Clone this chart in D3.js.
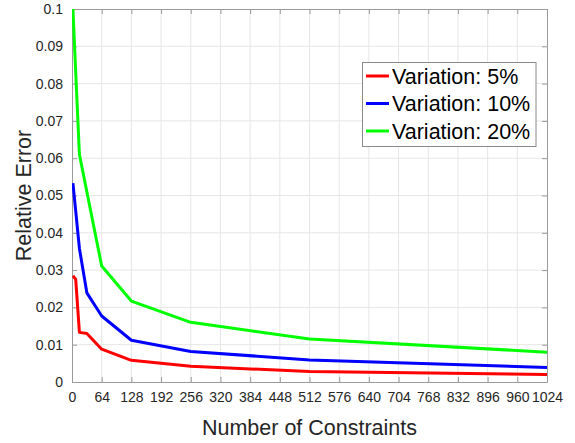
<!DOCTYPE html>
<html>
<head>
<meta charset="utf-8">
<script src="https://cdn.jsdelivr.net/npm/d3@7"></script>
<style>
  html, body { margin: 0; padding: 0; background: #fff; }
  svg { display: block; font-family: "Liberation Sans", Arial, Helvetica, sans-serif; }
</style>
</head>
<body>
<svg id="chart" width="575" height="443"></svg>
<script>
// Number of constraints at which each error was measured
const constraints = [2, 8, 16, 32, 64, 128, 256, 512, 1024];

// Relative error for each variation level
const err5  = [0.0285, 0.0275, 0.0133, 0.0130, 0.0088, 0.0058, 0.0042, 0.0028, 0.0020];
const err10 = [0.0533, 0.0458, 0.0358, 0.0239, 0.0177, 0.0112, 0.0082, 0.0059, 0.0039];
const err20 = [0.1000, 0.0830, 0.0610, 0.0510, 0.0311, 0.0217, 0.0160, 0.0115, 0.0080];

const seriesNames = ["Variation: 5%", "Variation: 10%", "Variation: 20%"];
const seriesColors = ["#ff0000", "#0000ff", "#00ff00"];

const xTicks = d3.range(0, 1025, 64);
const yTicks = [0, 0.01, 0.02, 0.03, 0.04, 0.05, 0.06, 0.07, 0.08, 0.09, 0.1];
const yTickLabels = ["0", "0.01", "0.02", "0.03", "0.04", "0.05", "0.06", "0.07", "0.08", "0.09", "0.1"];

const series = [err5, err10, err20].map((vals, i) => ({
  name: seriesNames[i],
  color: seriesColors[i],
  points: constraints.map((c, j) => [c, vals[j]])
}));

const svg = d3.select("#chart");
const plotLeft = 72, plotRight = 547, plotTop = 9, plotBottom = 382;

const x = d3.scaleLinear().domain([0, 1024]).range([plotLeft, plotRight]);
const y = d3.scaleLinear().domain([0, 0.1]).range([plotBottom, plotTop]);

const axisColor = "#9a9a9a";
const textColor = "#262626";
const tickLen = 5;

// grid
const grid = svg.append("g");
grid.selectAll("line.gx").data(xTicks.slice(1, -1)).join("line")
  .attr("x1", d => x(d)).attr("x2", d => x(d))
  .attr("y1", plotTop).attr("y2", plotBottom)
  .attr("stroke", "#e6e6e6").attr("stroke-width", 1);
grid.selectAll("line.gy").data(yTicks.slice(1, -1)).join("line")
  .attr("y1", d => y(d)).attr("y2", d => y(d))
  .attr("x1", plotLeft).attr("x2", plotRight)
  .attr("stroke", "#e6e6e6").attr("stroke-width", 1);

// axes: bottom and left with labels, top and right as box with inward ticks
const xAxis = svg.append("g").attr("transform", `translate(0,${plotBottom})`)
  .call(d3.axisBottom(x).tickValues(xTicks).tickFormat(d3.format("d"))
    .tickSizeInner(-tickLen).tickSizeOuter(0).tickPadding(10));
const yAxis = svg.append("g").attr("transform", `translate(${plotLeft},0)`)
  .call(d3.axisLeft(y).tickValues(yTicks).tickFormat((d, i) => yTickLabels[i])
    .tickSizeInner(-tickLen).tickSizeOuter(0).tickPadding(9));
const xTop = svg.append("g").attr("transform", `translate(0,${plotTop})`)
  .call(d3.axisTop(x).tickValues(xTicks).tickSizeInner(-tickLen).tickSizeOuter(0).tickFormat(""));
const yRight = svg.append("g").attr("transform", `translate(${plotRight},0)`)
  .call(d3.axisRight(y).tickValues(yTicks).tickSizeInner(-tickLen).tickSizeOuter(0).tickFormat(""));

[xAxis, yAxis, xTop, yRight].forEach(g => {
  g.select(".domain").attr("stroke", axisColor).attr("stroke-width", 1);
  g.selectAll(".tick line").attr("stroke", axisColor);
  g.selectAll(".tick text").attr("fill", textColor).style("font-size", "14px")
    .style("font-family", '"Liberation Sans", Arial, sans-serif');
});

// clip region for the curves
svg.append("clipPath").attr("id", "plotClip").append("rect")
  .attr("x", plotLeft).attr("y", plotTop - 2)
  .attr("width", plotRight - plotLeft).attr("height", plotBottom - plotTop + 2);

const line = d3.line().x(d => x(d[0])).y(d => y(d[1]));
svg.append("g").attr("clip-path", "url(#plotClip)")
  .selectAll("path").data(series).join("path")
  .attr("d", d => line(d.points))
  .attr("fill", "none")
  .attr("stroke", d => d.color)
  .attr("stroke-width", 3)
  .attr("stroke-linejoin", "round");

// axis titles
svg.append("text")
  .attr("x", (plotLeft + plotRight) / 2).attr("y", 435)
  .attr("text-anchor", "middle")
  .attr("fill", textColor)
  .style("font-size", "21.5px")
  .text("Number of Constraints");

svg.append("text")
  .attr("transform", `translate(31,${(plotTop + plotBottom) / 2}) rotate(-90)`)
  .attr("text-anchor", "middle")
  .attr("fill", textColor)
  .style("font-size", "21.5px")
  .text("Relative Error");

// legend
const lg = svg.append("g");
lg.append("rect")
  .attr("x", 362.5).attr("y", 62.5).attr("width", 173.5).attr("height", 84)
  .attr("fill", "#fff").attr("stroke", "#8a8a8a").attr("stroke-width", 1);
const rows = lg.selectAll("g.row").data(series).join("g")
  .attr("transform", (d, i) => `translate(0,${76 + i * 27.5})`);
rows.append("line")
  .attr("x1", 366).attr("x2", 389).attr("y1", 0).attr("y2", 0)
  .attr("stroke", d => d.color).attr("stroke-width", 3);
rows.append("text")
  .attr("x", 392).attr("y", 7.5)
  .attr("fill", "#000")
  .style("font-size", "21.5px")
  .text(d => d.name);
</script>
</body>
</html>
